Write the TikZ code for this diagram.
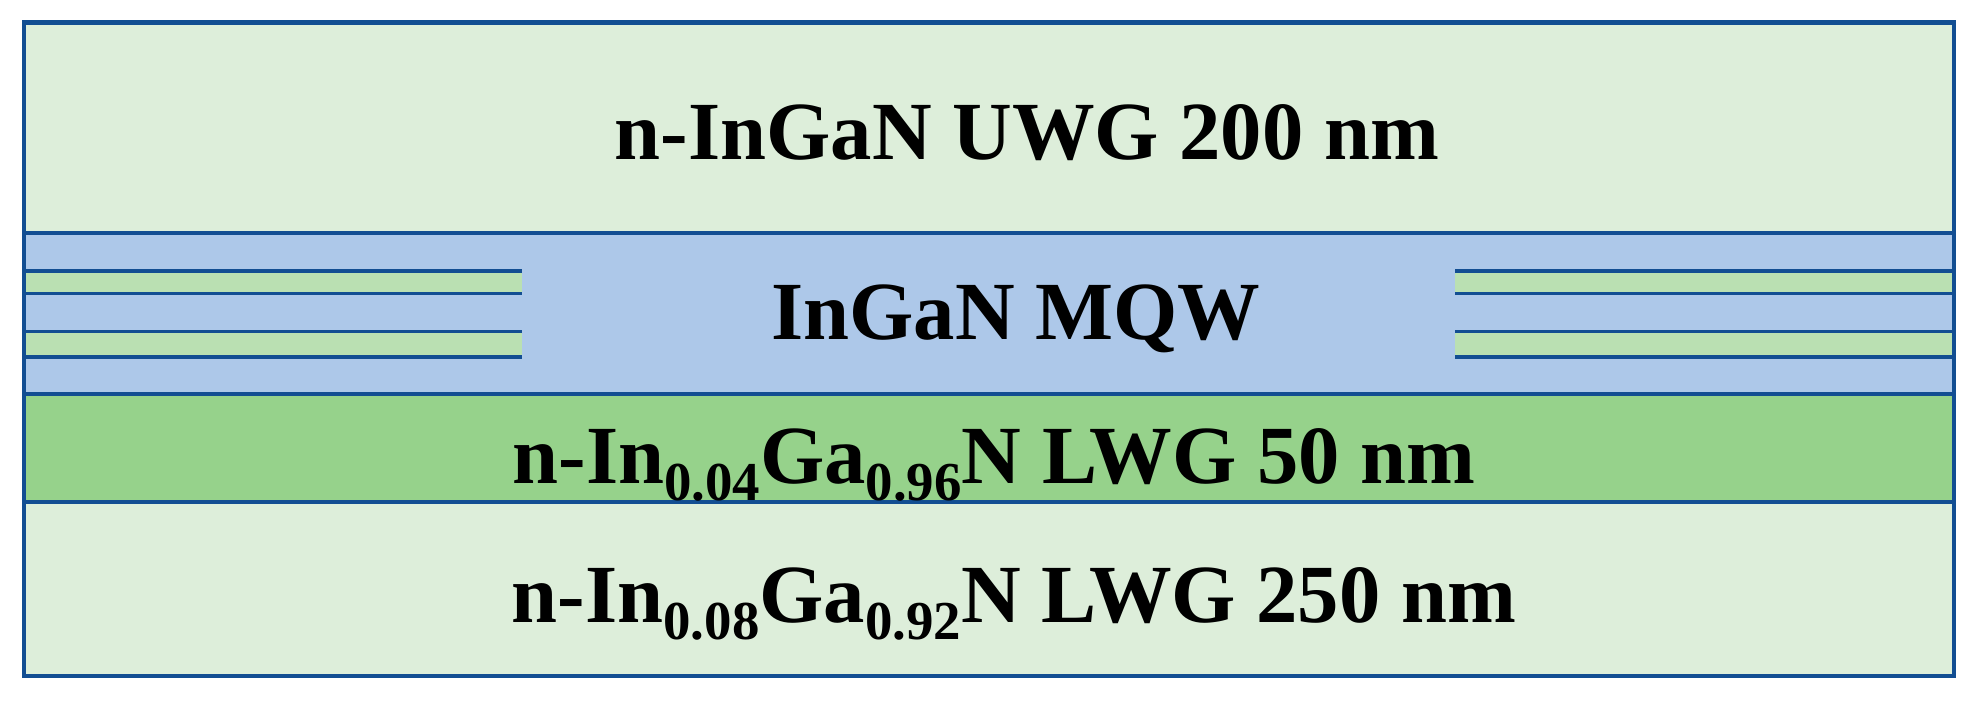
\documentclass[tikz,border=0pt]{standalone}
\usepackage{fontspec}
\setmainfont{Liberation Serif}
\definecolor{edge}{RGB}{18,78,146}
\definecolor{lightgr}{RGB}{221,238,218}
\definecolor{qwblue}{RGB}{173,200,233}
\definecolor{stripgr}{RGB}{186,224,178}
\definecolor{midgr}{RGB}{150,210,139}
\newcommand{\lsub}[1]{\raisebox{-0.177cm}{\fontsize{15.6pt}{18pt}\selectfont #1}}
\tikzset{
  layerline/.style={draw=edge, line width=1.05pt},
  frameline/.style={draw=edge, line width=1.15pt},
  label/.style={inner sep=0pt, anchor=base, font=\fontsize{23.5pt}{28pt}\selectfont\bfseries}
}
\begin{document}
\begin{tikzpicture}[x=0.01cm, y=-0.01cm]
\useasboundingbox (0,0) rectangle (1983,704);
% layer fills
\fill[lightgr] (24,22.5) rectangle (1954,233);
\fill[qwblue] (24,233) rectangle (1954,394);
\fill[midgr] (24,394) rectangle (1954,502);
\fill[lightgr] (24,502) rectangle (1954,676);
% quantum well strips
\fill[stripgr] (24,270.7) rectangle (522,293.5);
\fill[stripgr] (24,331.5) rectangle (522,356.7);
\fill[stripgr] (1455,270.7) rectangle (1954,293.5);
\fill[stripgr] (1455,331.5) rectangle (1954,356.7);
% strip lines
\foreach \yy in {270.7,293.5,331.5,356.7}{
  \draw[layerline] (24,\yy) -- (522,\yy);
  \draw[layerline] (1455,\yy) -- (1954,\yy);
}
% interfaces
\draw[layerline] (24,233) -- (1954,233);
\draw[layerline] (24,394) -- (1954,394);
\draw[layerline] (24,502) -- (1954,502);
% frame
\draw[frameline] (24,22.5) rectangle (1954,676);
% labels
\node[label] (uwg) at (1027,160) {n-InGaN UWG 200 nm};
\node[label] (mqw) at (1016,340) {InGaN MQW};
\node[label] (lwgA) at (994,483) {n-In\lsub{0.04}Ga\lsub{0.96}N LWG 50 nm};
\node[label] (lwgB) at (1014,622) {n-In\lsub{0.08}Ga\lsub{0.92}N LWG 250 nm};
\end{tikzpicture}
\end{document}
